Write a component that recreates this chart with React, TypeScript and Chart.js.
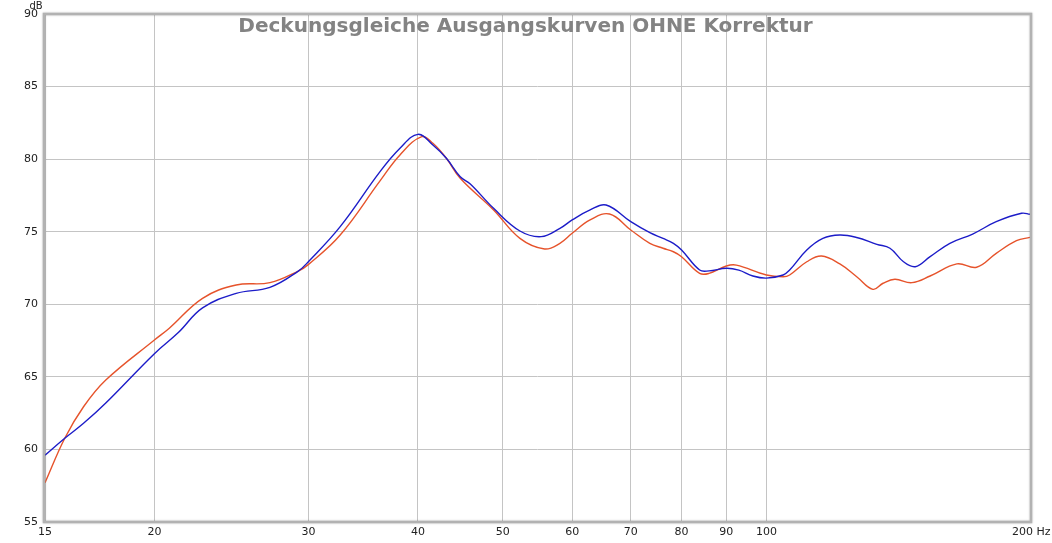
import React, { useEffect, useRef } from "react";
import { Chart, registerables } from "chart.js";

Chart.register(...registerables);

const TITLE = "Deckungsgleiche Ausgangskurven OHNE Korrektur";
const X_TICKS = [15, 20, 30, 40, 50, 60, 70, 80, 90, 100, 200];
const Y_UNIT = "dB";
const X_UNIT = "Hz";

const blueFreq = [15, 15.8, 16.6, 17.6, 20, 21.3, 22.7, 24.8, 27.1, 29.2, 30, 32.6, 36.2, 38.15, 40, 41.6, 43.1, 44.7, 45.9, 48.8, 52.3, 55.3, 58.1, 60, 62.9, 65.6, 70, 73.6, 76.2, 78.3, 80, 83.9, 86, 90, 93, 96.5, 100, 104.5, 106.3, 111.2, 116, 121.3, 126.8, 133.7, 138.4, 143.4, 147.9, 153.8, 162, 172, 183, 195.6, 200];
const blueDb = [59.6, 60.77, 61.8, 63.2, 66.6, 68.05, 69.75, 70.75, 71.17, 72.29, 72.95, 75.35, 79.14, 80.75, 81.71, 80.97, 80.06, 78.79, 78.29, 76.61, 75.05, 74.66, 75.23, 75.81, 76.5, 76.84, 75.69, 74.93, 74.54, 74.2, 73.74, 72.36, 72.3, 72.48, 72.35, 71.95, 71.8, 72.02, 72.36, 73.74, 74.54, 74.77, 74.6, 74.13, 73.86, 72.93, 72.59, 73.28, 74.2, 74.84, 75.69, 76.27, 76.2];

const redFreq = [15, 15.8, 16.6, 17.6, 20, 20.8, 22.7, 24.8, 27.1, 29.2, 30, 32.6, 36.2, 38.15, 40.4, 41.6, 43.1, 44.7, 48.8, 52.3, 55.8, 58.1, 60, 62.9, 66.2, 70, 73.6, 76.2, 78.3, 80, 83.9, 86, 90, 92.4, 100, 104.5, 106.3, 111.2, 115.6, 121.3, 126.8, 132.3, 135.9, 140.2, 146.6, 153.8, 165, 173.8, 183, 193, 200];
const redDb = [57.7, 60.77, 62.94, 64.78, 67.54, 68.35, 70.41, 71.33, 71.49, 72.29, 72.75, 74.77, 78.5, 80.29, 81.55, 81.09, 80.06, 78.68, 76.5, 74.54, 73.81, 74.2, 74.89, 75.81, 76.22, 75.12, 74.2, 73.86, 73.62, 73.28, 72.13, 72.13, 72.64, 72.7, 72.02, 71.9, 72.02, 72.93, 73.33, 72.78, 71.9, 71.03, 71.45, 71.72, 71.49, 71.95, 72.78, 72.55, 73.51, 74.38, 74.61];

const FONT = "'DejaVu Sans', 'Lucida Grande', sans-serif";

export default function App() {
  const ref = useRef<HTMLCanvasElement>(null);

  useEffect(() => {
    document.body.style.margin = "0";
    const canvas = ref.current;
    if (!canvas) return;

    const decor = {
      id: "decor",
      afterDraw(chart: any) {
        const { ctx, chartArea } = chart;
        const { left, top, right, bottom } = chartArea;
        ctx.save();
        // frame
        ctx.shadowColor = "rgba(0,0,0,0.25)";
        ctx.shadowBlur = 2;
        ctx.strokeStyle = "#b2b2b2";
        ctx.lineWidth = 2.5;
        ctx.strokeRect(left - 1, top, right - left + 2, bottom - top);
        ctx.restore();

        ctx.save();
        // title
        ctx.fillStyle = "#838383";
        ctx.font = `bold 20px ${FONT}`;
        const w = ctx.measureText(TITLE).width;
        const size = 20 * 575 / w;
        ctx.font = `bold ${size.toFixed(2)}px ${FONT}`;
        ctx.textAlign = "center";
        ctx.textBaseline = "alphabetic";
        ctx.fillText(TITLE, 525.5, 32);

        // axis units
        ctx.fillStyle = "#222";
        ctx.font = `10px ${FONT}`;
        ctx.textAlign = "center";
        ctx.fillText(Y_UNIT, left - 9, 9);
        ctx.font = `11px ${FONT}`;
        ctx.textAlign = "left";
        ctx.textBaseline = "middle";
        const x200 = chart.scales.x.getPixelForValue(200);
        ctx.fillText("200 " + X_UNIT, x200 - 18, 532);
        ctx.restore();
      },
    };

    const chart = new Chart(canvas, {
      type: "line",
      data: {
        datasets: [
          {
            label: "blue",
            data: blueFreq.map((f, i) => ({ x: f, y: blueDb[i] })),
            borderColor: "#1c1cc8",
            borderWidth: 1.4,
            pointRadius: 0,
            tension: 0.4,
            fill: false,
          },
          {
            label: "red",
            data: redFreq.map((f, i) => ({ x: f, y: redDb[i] })),
            borderColor: "#e6532b",
            borderWidth: 1.4,
            pointRadius: 0,
            tension: 0.4,
            fill: false,
          },
        ],
      },
      options: {
        animation: false,
        responsive: false,
        maintainAspectRatio: false,
        layout: { padding: { top: 14, right: 22, left: 0, bottom: 0 } },
        plugins: {
          legend: { display: false },
          tooltip: { enabled: false },
          title: { display: false },
        },
        scales: {
          x: {
            type: "logarithmic",
            min: 15,
            max: 200,
            afterBuildTicks: (s: any) => {
              s.ticks = X_TICKS.map((v) => ({ value: v }));
            },
            afterFit: (s: any) => {
              s.height = 21;
            },
            ticks: {
              autoSkip: false,
              maxRotation: 0,
              padding: 4,
              color: "#222",
              font: { family: FONT, size: 11 },
              callback: (v: any) => (Number(v) === 200 ? "" : String(v)),
            },
            grid: { color: "#c4c4c4", lineWidth: 1, drawTicks: false },
            border: { display: false },
          },
          y: {
            type: "linear",
            min: 55,
            max: 90,
            afterFit: (s: any) => {
              s.width = 45;
            },
            ticks: {
              stepSize: 5,
              padding: 7,
              color: "#222",
              font: { family: FONT, size: 11 },
            },
            grid: { color: "#c4c4c4", lineWidth: 1, drawTicks: false },
            border: { display: false },
          },
        },
      },
      plugins: [decor],
    });

    return () => chart.destroy();
  }, []);

  return (
    <div style={{ width: 1052, height: 543, background: "#fff" }}>
      <canvas ref={ref} width={1052} height={543} style={{ display: "block" }} />
    </div>
  );
}
